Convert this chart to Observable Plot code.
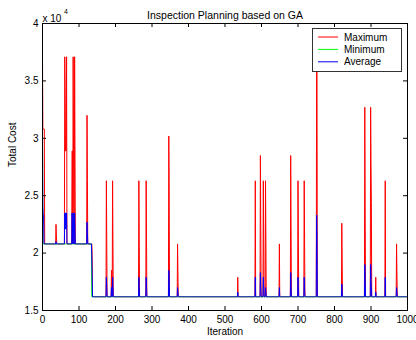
<!DOCTYPE html>
<html><head><meta charset="utf-8">
<script src="https://cdn.jsdelivr.net/npm/d3@7"></script>
<script src="https://cdn.jsdelivr.net/npm/@observablehq/plot@0.6"></script>
<style>body{margin:0;background:#fff}</style>
</head><body><div id="chart"></div>
<script>
const title = "Inspection Planning based on GA";
const seriesNames = ["Maximum", "Minimum", "Average"];
const seriesColors = ["#ff0000", "#00ff00", "#0000ff"];
const xTicks = [0, 100, 200, 300, 400, 500, 600, 700, 800, 900, 1000];
const yTicks = [1.5, 2, 2.5, 3, 3.5, 4];
const lastIter = 1000;
// Minimum (x10^4): step levels, starting iteration of each level
const minIter = [0, 1, 135];
const minVal = [3.08, 2.08, 1.62];
// Maximum spikes (x10^4)
const maxSpikeIter = [0,1,2,3,4,5, 37,38, 61,62,63,64,65,66, 81,82,84,85,88,89, 122,123, 135,136,
  175,176, 189, 192,193, 264,265, 284,285, 346,347, 370,371, 535, 583, 597,598, 605,606, 611,612, 649,
  680,681, 700,701, 717,718, 751,752, 820,821, 883,884, 899,900,901, 913, 939, 970,971];
const maxSpikeVal = [3.70,3.08,3.08,3.08,3.08,3.08, 2.25,2.16, 3.71,3.45,2.89,2.89,2.89,3.71, 2.89,2.89,3.71,2.89,3.71,2.89, 3.20,2.64, 2.08,2.00,
  2.63,2.12, 1.85, 2.63,2.08, 2.63,2.12, 2.63,2.12, 3.02,2.63, 2.08,1.85, 1.79, 2.63, 2.85,2.23, 2.63,2.12, 2.63,2.12, 2.08,
  2.85,2.23, 2.63,2.12, 2.63,2.12, 3.75,3.65, 2.26,1.93, 3.27,2.44, 3.27,2.79,2.44, 1.79, 2.63, 2.08,1.85];
// Average spikes (x10^4)
const avgSpikeIter = [0,1,2,3, 37, 61,62,63,64,65,66, 81,82,84,85,88,89, 122,123, 135,136,
  175,176, 189, 192,193, 264,265, 284,285, 346,347, 370,371, 535, 583, 597,598, 605,606, 611,612, 649,
  680,681, 700,701, 717,718, 751,752, 820,821, 883,884, 899,900,901, 913, 939, 970,971];
const avgSpikeVal = [3.02,2.41,2.33,2.33, 2.10, 2.35,2.21,2.35,2.21,2.21,2.35, 2.35,2.21,2.35,2.21,2.35,2.21, 2.27,2.18, 1.98,1.80,
  1.79,1.70, 1.70, 1.79,1.70, 1.79,1.70, 1.79,1.70, 1.85,1.79, 1.70,1.66, 1.66, 1.79, 1.83,1.70, 1.79,1.70, 1.70,1.66, 1.70,
  1.83,1.70, 1.79,1.70, 1.79,1.70, 2.33,2.15, 1.73,1.66, 1.90,1.77, 1.90,1.76,1.70, 1.66, 1.79, 1.70,1.66];

function minAt(i) { let v = minVal[0]; minIter.forEach((it, k) => { if (i >= it) v = minVal[k]; }); return v; }
const maxMap = new Map(maxSpikeIter.map((it, k) => [it, maxSpikeVal[k]]));
const avgMap = new Map(avgSpikeIter.map((it, k) => [it, avgSpikeVal[k]]));
const rows = d3.range(0, lastIter + 1).map(i => ({
  i, min: minAt(i), max: maxMap.has(i) ? maxMap.get(i) : minAt(i), avg: avgMap.has(i) ? avgMap.get(i) : minAt(i)
}));

function legendMark(index, scales, values, dims) {
  const g = d3.create("svg:g");
  const bw = 89, bh = 43;
  const bx = dims.width - dims.marginRight - 95, by = dims.marginTop + 5;
  g.append("rect").attr("x", bx + 0.5).attr("y", by + 0.5).attr("width", bw).attr("height", bh)
    .attr("fill", "white").attr("stroke", "#333");
  seriesNames.forEach((name, k) => {
    const y = by + 9 + k * 12.4;
    g.append("line").attr("x1", bx + 6).attr("x2", bx + 26).attr("y1", y).attr("y2", y)
      .attr("stroke", seriesColors[k]).attr("stroke-width", 1);
    g.append("text").attr("x", bx + 32).attr("y", y).attr("dy", "0.35em")
      .attr("text-anchor", "start").attr("font-size", 10).attr("fill", "black").text(name);
  });
  return g.node();
}

const chart = Plot.plot({
  width: 416, height: 340,
  marginLeft: 42, marginRight: 9, marginTop: 23, marginBottom: 30,
  style: {fontFamily: "'Liberation Sans', Arial, sans-serif", fontSize: "10px", background: "white", color: "black"},
  x: {domain: [0, 1000]},
  y: {domain: [1.5, 4]},
  marks: [
    Plot.line(rows, {x: "i", y: "max", stroke: seriesColors[0], strokeWidth: 1}),
    Plot.line(rows, {x: "i", y: "min", stroke: seriesColors[1], strokeWidth: 1}),
    Plot.line(rows, {x: "i", y: "avg", stroke: seriesColors[2], strokeWidth: 1}),
    Plot.frame({stroke: "black"}),
    Plot.tickX(xTicks, {x: d => d, insetTop: 283, stroke: "black"}),
    Plot.tickX(xTicks, {x: d => d, insetBottom: 283, stroke: "black"}),
    Plot.tickY(yTicks, {y: d => d, insetRight: 361, stroke: "black"}),
    Plot.tickY(yTicks, {y: d => d, insetLeft: 361, stroke: "black"}),
    Plot.axisX({ticks: xTicks, tickSize: 0, tickPadding: 5, label: null, tickFormat: d => String(d), fontSize: 10}),
    Plot.axisY({ticks: yTicks, tickSize: 0, tickPadding: 4, label: null, tickFormat: d => String(d), fontSize: 10}),
    Plot.text([title], {frameAnchor: "top", dy: -12, fontSize: 10.5}),
    Plot.text(["Iteration"], {frameAnchor: "bottom", dy: 24, fontSize: 10}),
    Plot.text(["Total Cost"], {frameAnchor: "left", dx: -30, rotate: -90, fontSize: 10}),
    Plot.text(["x 10"], {frameAnchor: "top-left", dy: -9, textAnchor: "start", fontSize: 10}),
    Plot.text(["4"], {frameAnchor: "top-left", dx: 21.5, dy: -14, textAnchor: "start", fontSize: 7}),
    legendMark
  ]
});
document.getElementById("chart").append(chart);
</script>
</body></html>
